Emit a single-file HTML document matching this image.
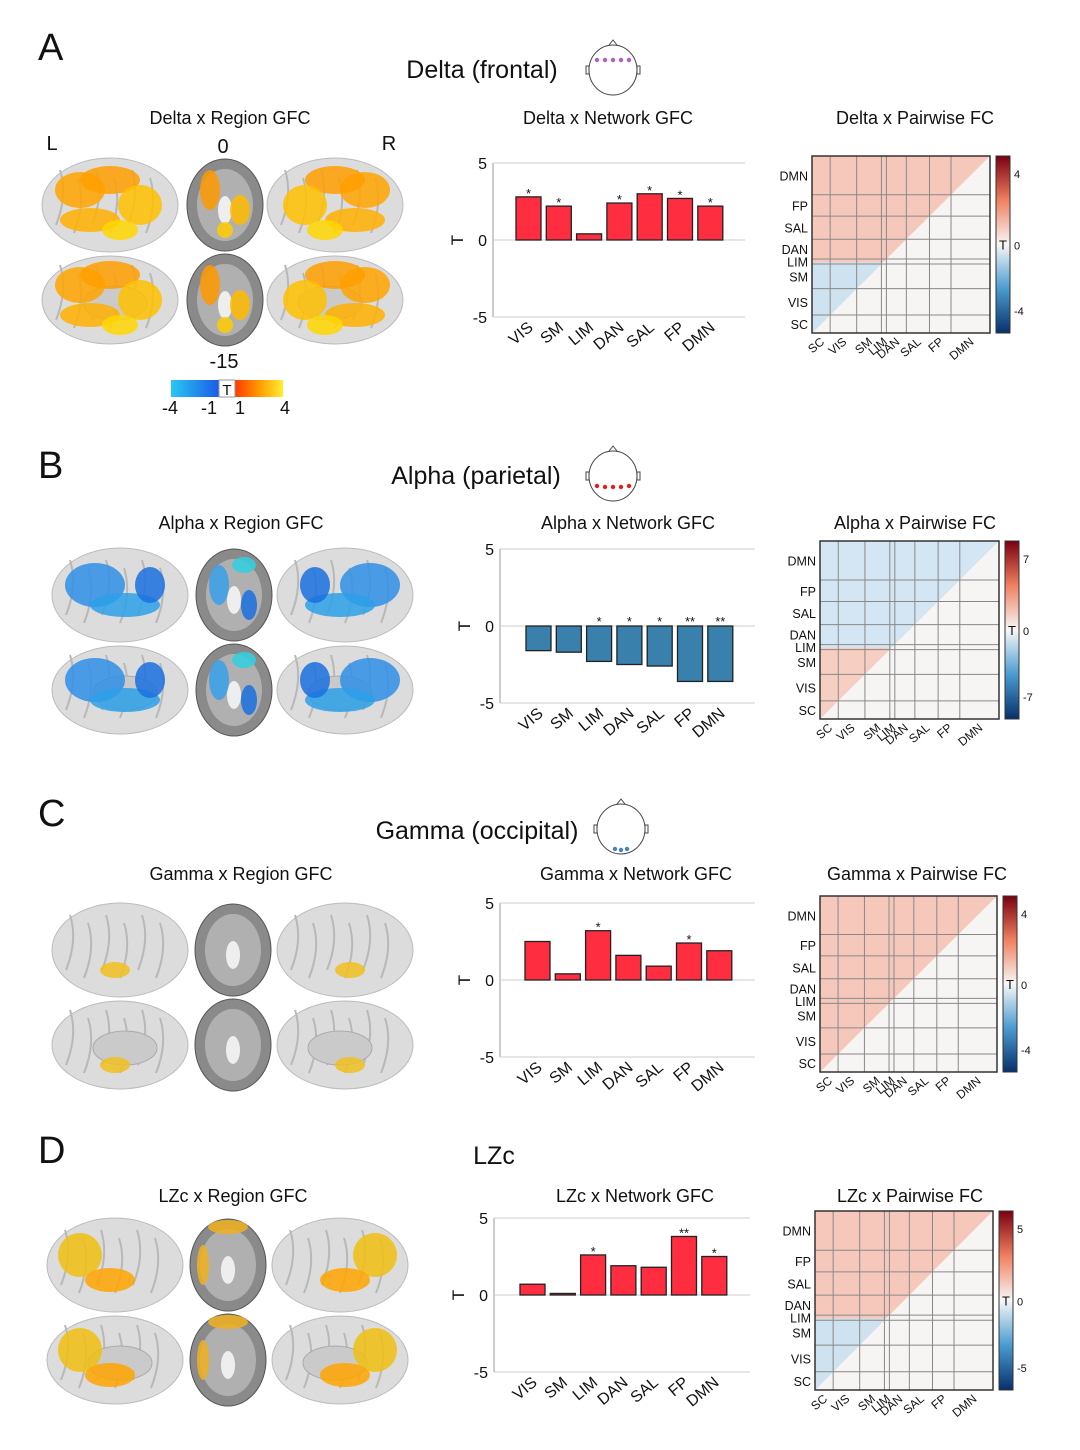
<!DOCTYPE html>
<html><head><meta charset="utf-8"><style>
body{margin:0;background:#fff;}
svg text{font-family:"Liberation Sans",Arial,sans-serif;fill:#111;}
</style></head><body>
<svg id="fig" width="1080" height="1445" viewBox="0 0 1080 1445">
</svg>
<script>
const cats = ['VIS','SM','LIM','DAN','SAL','FP','DMN'];
const valsA = [2.8,2.2,0.4,2.4,3.0,2.7,2.2];
const valsB = [-1.6,-1.7,-2.3,-2.5,-2.6,-3.6,-3.6];
const valsC = [2.5,0.4,3.2,1.6,0.9,2.4,1.9];
const valsD = [0.7,0.1,2.6,1.9,1.8,3.8,2.5];
const starsA = ['*','*','','*','*','*','*'];
const starsB = ['','','*','*','*','**','**'];
const starsC = ['','','*','','','*',''];
const starsD = ['','','*','','','**','*'];
const yTicks = [5,0,-5];
const netLabels = ['SC','VIS','SM','LIM','DAN','SAL','FP','DMN'];
const netFrac = [0,0.102,0.251,0.390,0.418,0.530,0.660,0.781,1];

const NS='http://www.w3.org/2000/svg';
const svg=document.getElementById('fig');
function mk(tag,attrs,parent,text){const e=document.createElementNS(NS,tag);for(const k in attrs)e.setAttribute(k,attrs[k]);if(text!==undefined)e.textContent=text;(parent||svg).appendChild(e);return e;}

const defs=mk('defs',{});
const g1=mk('linearGradient',{id:'cbDiv',x1:0,y1:1,x2:0,y2:0},defs);
[['0','#08306b'],['0.25','#4a9bd0'],['0.5','#f7f7f7'],['0.75','#f08060'],['1','#7a0010']].forEach(s=>mk('stop',{offset:s[0],'stop-color':s[1]},g1));
const g2=mk('linearGradient',{id:'cbBlue',x1:0,y1:0,x2:1,y2:0},defs);
[['0','#29c8f0'],['1','#1a5ce8']].forEach(s=>mk('stop',{offset:s[0],'stop-color':s[1]},g2));
const g3=mk('linearGradient',{id:'cbHot',x1:0,y1:0,x2:1,y2:0},defs);
[['0','#ff3a00'],['0.5','#ff9a00'],['1','#ffee30']].forEach(s=>mk('stop',{offset:s[0],'stop-color':s[1]},g3));

function panel(o){
  const g=mk('g',{});
  
  
  const L=mk('text',{x:38,y:o.letterY,'font-size':38},g,o.letter);
  
  const T=mk('text',{x:o.titleX,y:o.titleY,'font-size':25,'text-anchor':'middle'},g,o.title);
  
  if(o.head){
    const hg=mk('g',{},g);
    const cx=o.head[0],cy=o.head[1];
    mk('ellipse',{cx:cx,cy:cy,rx:24,ry:25,fill:'#fff',stroke:'#444','stroke-width':1},hg);
    mk('path',{d:`M${cx-4} ${cy-25} L${cx} ${cy-30} L${cx+4} ${cy-25}`,fill:'none',stroke:'#444'},hg);
    mk('rect',{x:cx-27,y:cy-4,width:3,height:8,fill:'#fff',stroke:'#444'},hg);
    mk('rect',{x:cx+24,y:cy-4,width:3,height:8,fill:'#fff',stroke:'#444'},hg);
    o.dots.forEach(d=>mk('circle',{cx:cx+d[0],cy:cy+d[1],r:2.2,fill:o.dotColor},hg));
  }
  [[o.s1x,o.s1],[o.s2x,o.s2],[o.s3x,o.s3]].forEach((s,i)=>{
    const t=mk('text',{x:s[0],y:o.subY,'font-size':18,'text-anchor':'middle'},g,s[1]);
    
    
  });
  brains(g,o);
  bars(g,o);
  matrix(g,o);
}

function brains(g,o){
  const bg=mk('g',{},g);
  const y1=o.brainY, y2=o.brainY+95;
  [[o.bx1,y1],[o.bx3,y1],[o.bx1,y2],[o.bx3,y2]].forEach((p,i)=>{
    const b=mk('g',{},bg);
    
    
    mk('ellipse',{cx:p[0],cy:p[1],rx:68,ry:i<2?47:44,fill:'#dcdcdc',stroke:'#bbb'},b);
    for(let k=0;k<6;k++) mk('path',{d:`M${p[0]-50+k*18} ${p[1]-35+(k%2)*8} q8 25 -4 55`,fill:'none',stroke:'#b8b8b8','stroke-width':2},b);
    if(i>=2) mk('ellipse',{cx:p[0]+(i==2?5:-5),cy:p[1]+3,rx:32,ry:17,fill:'#cacaca',stroke:'#aaa'},b);
    o.blobs.forEach(bl=>{
      const side=(i%2==0)?1:-1;
      mk('ellipse',{cx:p[0]+bl[0]*side,cy:p[1]+bl[1],rx:bl[2],ry:bl[3],fill:bl[4],opacity:0.85},b);
    });
  });
  [[o.bx2,y1],[o.bx2,y2]].forEach(p=>{
    const b=mk('g',{},bg);
    
    
    mk('ellipse',{cx:p[0],cy:p[1],rx:38,ry:46,fill:'#8a8a8a',stroke:'#555'},b);
    mk('ellipse',{cx:p[0],cy:p[1],rx:28,ry:36,fill:'#b0b0b0'},b);
    mk('ellipse',{cx:p[0],cy:p[1]+5,rx:7,ry:14,fill:'#eee'},b);
    o.axBlobs.forEach(bl=>mk('ellipse',{cx:p[0]+bl[0],cy:p[1]+bl[1],rx:bl[2],ry:bl[3],fill:bl[4],opacity:0.85},b));
  });
}

function bars(g,o){
  const bg=mk('g',{},g);
  const y=v=>o.y0-(v)*(o.y0-o.y5)/5;
  const x0=o.ax0, x1=o.ax1;
  mk('line',{x1:x0,y1:y(5),x2:x0,y2:y(-5),stroke:'#999'},bg);
  mk('line',{x1:x0,y1:y(5),x2:x1,y2:y(5),stroke:'#ccc'},bg);
  mk('line',{x1:x0,y1:y(-5),x2:x1,y2:y(-5),stroke:'#ccc'},bg);
  mk('line',{x1:x0,y1:y(0),x2:x1,y2:y(0),stroke:'#ccc'},bg);
  yTicks.forEach(t=>{
    const tx=mk('text',{x:x0-6,y:y(t)+6,'font-size':16,'text-anchor':'end'},bg,String(t));
    
  });
  const yl=mk('text',{x:0,y:0,'font-size':17,'text-anchor':'middle',transform:`translate(${x0-30},${y(0)}) rotate(-90)`},bg,'T');
  
  const bx=i=>o.bar0+i*30.3;
  o.vals.forEach((v,i)=>{
    const r=mk('rect',{x:bx(i),y:Math.min(y(v),y(0)),width:25,height:Math.abs(y(v)-y(0)),fill:o.barColor,stroke:'#222','stroke-width':1.3},bg);
    
    if(o.stars[i]){
      const sy=v>0?y(v)-2:y(0)-3;
      const s=mk('text',{x:bx(i)+12.5,y:sy+3,'font-size':13,'text-anchor':'middle'},bg,o.stars[i]);
      
    }
    const lx=bx(i)+18, ly=y(-5)+12;
    const t=mk('text',{x:0,y:0,'font-size':16,'text-anchor':'end',transform:`translate(${lx},${ly}) rotate(-40)`},bg,cats[i]);
    
  });
}

function matrix(g,o){
  const mg=mk('g',{},g);
  const [x0,y0,x1,y1]=o.m;const W=x1-x0,H=y1-y0;
  mk('rect',{x:x0,y:y0,width:W,height:H,fill:'#f7f5f3'},mg);
  mk('polygon',{points:`${x0},${y0} ${x1},${y0} ${x0},${y1}`,fill:o.triColor},mg);
  if(o.tri2) mk('polygon',{points:`${x0},${y0+H*0.6} ${x0+W*0.4},${y0+H*0.6} ${x0},${y1}`,fill:o.tri2},mg);
  netFrac.forEach(f=>{
    mk('line',{x1:x0+f*W,y1:y0,x2:x0+f*W,y2:y1,stroke:'#888','stroke-width':1},mg);
    mk('line',{x1:x0,y1:y1-f*H,x2:x1,y2:y1-f*H,stroke:'#888','stroke-width':1},mg);
  });
  mk('rect',{x:x0,y:y0,width:W,height:H,fill:'none',stroke:'#333','stroke-width':1.5},mg);
  netLabels.forEach((n,i)=>{
    const mid=(netFrac[i]+netFrac[i+1])/2;
    const ry=y1-mid*H+5;
    const t=mk('text',{x:x0-4,y:ry,'font-size':12.5,'text-anchor':'end'},mg,n);
    
    const cx=x0+mid*W+4;
    const c=mk('text',{x:0,y:0,'font-size':12,'text-anchor':'end',transform:`translate(${cx},${y1+10}) rotate(-40)`},mg,n);
    
  });
  const cb=mk('rect',{x:x1+6,y:y0,width:14,height:H,fill:'url(#cbDiv)',stroke:'#333'},mg);
  
  [[o.cmax,y0+22],['0',y0+H/2+5],['-'+o.cmax,y1-18]].forEach(l=>{
    const t=mk('text',{x:x1+24,y:l[1],'font-size':11},mg,l[0]);
    
  });
  mk('text',{x:x1+9,y:y0+H/2+5,'font-size':13},mg,'T');
}

const hot=[[-30,-15,25,18,'#ffa500'],[0,-25,30,14,'#ff9d00'],[30,0,22,20,'#ffc000'],[-20,15,30,12,'#ffb000'],[10,25,18,10,'#ffd700']];
const blue=[[-25,-10,30,22,'#2f8fe8'],[5,10,35,12,'#2da0e8'],[30,-10,15,18,'#1a70e0']];
panel({letter:'A',letterY:60,title:'Delta (frontal)',titleX:482,titleY:78,head:[613,70],dotColor:'#b060c0',
  dots:[[-16,-10],[-8,-10],[0,-10],[8,-10],[16,-10]],
  s1:'Delta x Region GFC',s1x:230,s2:'Delta x Network GFC',s2x:608,s3:'Delta x Pairwise FC',s3x:915,subY:124,
  brainY:205,bx1:110,bx2:225,bx3:335,blobs:hot,axBlobs:[[-15,-15,10,20,'#ff9900'],[15,5,10,15,'#ffbb00'],[0,25,8,8,'#ffcc00']],
  vals:valsA,stars:starsA,y0:240,y5:163,ax0:493,ax1:745,bar0:516,barColor:'#ff2d3f',
  m:[812,156,990,333],triColor:'#f6c8bc',tri2:'#cfe2f0',cmax:'4'});
panel({letter:'B',letterY:478,title:'Alpha (parietal)',titleX:476,titleY:484,head:[613,476],dotColor:'#e02020',
  dots:[[-16,10],[-8,11],[0,11],[8,11],[16,10]],
  s1:'Alpha x Region GFC',s1x:241,s2:'Alpha x Network GFC',s2x:628,s3:'Alpha x Pairwise FC',s3x:915,subY:529,
  brainY:595,bx1:120,bx2:234,bx3:345,blobs:blue,axBlobs:[[-15,-10,10,20,'#3aa0ea'],[10,-30,12,8,'#30d0e0'],[15,10,8,15,'#1a70e0']],
  vals:valsB,stars:starsB,y0:626,y5:549,ax0:500,ax1:755,bar0:526,barColor:'#3a80ad',
  m:[820,541,999,719],triColor:'#d4e6f3',tri2:'#f6cfc2',cmax:'7'});
panel({letter:'C',letterY:826,title:'Gamma (occipital)',titleX:477,titleY:839,head:[621,829],dotColor:'#4a80c0',
  dots:[[-6,20],[0,21],[6,20]],
  s1:'Gamma x Region GFC',s1x:241,s2:'Gamma x Network GFC',s2x:636,s3:'Gamma x Pairwise FC',s3x:917,subY:880,
  brainY:950,bx1:120,bx2:233,bx3:345,blobs:[[-5,20,15,8,'#f0c020']],axBlobs:[],
  vals:valsC,stars:starsC,y0:980,y5:903,ax0:500,ax1:755,bar0:525,barColor:'#ff2d3f',
  m:[820,896,997,1072],triColor:'#f6c8bc',tri2:null,cmax:'4'});
panel({letter:'D',letterY:1163,title:'LZc',titleX:494,titleY:1164,head:null,
  s1:'LZc x Region GFC',s1x:233,s2:'LZc x Network GFC',s2x:635,s3:'LZc x Pairwise FC',s3x:910,subY:1202,
  brainY:1265,bx1:115,bx2:228,bx3:340,blobs:[[-35,-10,22,22,'#f0c010'],[-5,15,25,12,'#ffa500']],axBlobs:[[0,-38,20,7,'#f0b020'],[-25,0,6,20,'#f0b020']],
  vals:valsD,stars:starsD,y0:1295,y5:1218,ax0:494,ax1:750,bar0:520,barColor:'#ff2d3f',
  m:[815,1211,993,1390],triColor:'#f6c8bc',tri2:'#cfe2f0',cmax:'5'});

const ex=mk('g',{});
[['L',52,150],['0',223,153],['R',389,150],['-15',224,368]].forEach(t=>mk('text',{x:t[1],y:t[2],'font-size':20,'text-anchor':'middle'},ex,t[0]));
mk('rect',{x:171,y:380,width:48,height:17,fill:'url(#cbBlue)'},ex);
mk('rect',{x:235,y:380,width:48,height:17,fill:'url(#cbHot)'},ex);
mk('rect',{x:219,y:380,width:16,height:17,fill:'#fff',stroke:'#999'},ex);
mk('text',{x:227,y:395,'font-size':15,'text-anchor':'middle'},ex,'T');
[['-4',170],['-1',209],['1',240],['4',285]].forEach(t=>mk('text',{x:t[1],y:414,'font-size':18,'text-anchor':'middle'},ex,t[0]));
</script>
</body></html>
